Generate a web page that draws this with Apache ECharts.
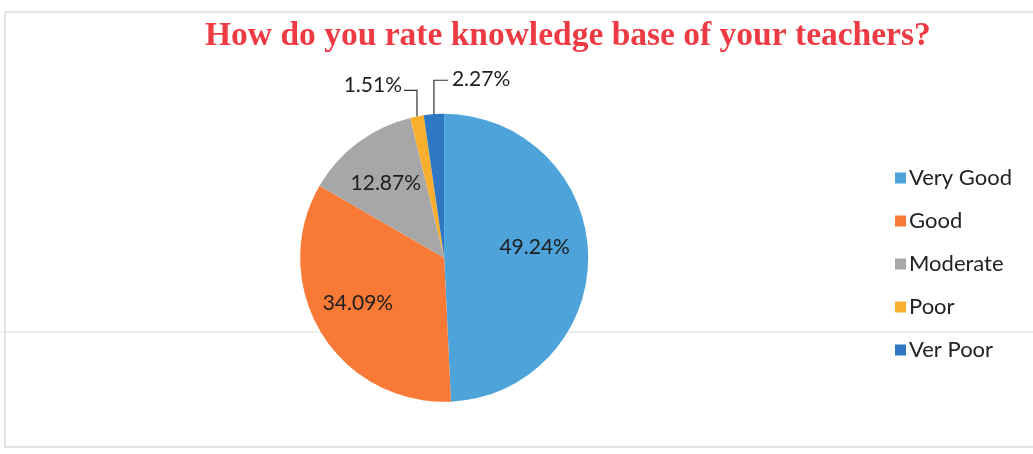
<!DOCTYPE html>
<html>
<head>
<meta charset="utf-8">
<script src="https://cdn.jsdelivr.net/npm/echarts@6/dist/echarts.min.js"></script>
<style>
html,body{margin:0;padding:0;background:#fff;}
#chart{width:1033px;height:454px;}
</style>
</head>
<body>
<div id="chart"></div>
<script>
var titleText = 'How do you rate knowledge base of your teachers?';
var categories = ['Very Good', 'Good', 'Moderate', 'Poor', 'Ver Poor'];
var values = [49.24, 34.09, 12.87, 1.51, 2.27];
var colors = ['#4DA3DA', '#F97A36', '#A8A7A7', '#F9AE2E', '#2E77C3'];

var chart = echarts.init(document.getElementById('chart'));
var CX = 0.43, CY = 0.568, R = 144;

var data = categories.map(function (c, i) {
  var outside = values[i] < 5;
  return {
    name: c,
    value: values[i],
    itemStyle: { color: colors[i] },
    label: { position: outside ? 'outside' : 'inside' },
    labelLine: { show: outside }
  };
});

chart.setOption({
  backgroundColor: '#ffffff',
  animation: false,
  title: {
    text: titleText,
    left: 200,
    top: 14,
    textStyle: {
      fontFamily: '"Liberation Serif", "Times New Roman", serif',
      fontWeight: 'bold',
      fontSize: 33.5,
      color: '#EE3B43'
    }
  },
  legend: {
    orient: 'vertical',
    left: 890,
    top: 161,
    icon: 'rect',
    itemWidth: 11,
    itemHeight: 11,
    itemGap: 19,
    selectedMode: false,
    textStyle: {
      fontFamily: 'Lato, "Noto Sans", sans-serif',
      fontSize: 22,
      lineHeight: 24,
      color: '#222',
      padding: [0, 0, 0, -2]
    },
    data: categories
  },
  graphic: [
    { type: 'rect', silent: true, shape: { x: 5, y: 12, width: 1040, height: 435 },
      style: { fill: 'none', stroke: '#c8c8c8', lineWidth: 1 } },
    { type: 'line', silent: true, shape: { x1: 0, y1: 332, x2: 1033, y2: 332 },
      style: { stroke: '#dcdcdc', lineWidth: 1 } }
  ],
  series: [{
    type: 'pie',
    center: [(CX * 100) + '%', (CY * 100) + '%'],
    radius: R,
    startAngle: 90,
    clockwise: true,
    avoidLabelOverlap: false,
    label: {
      fontFamily: 'Lato, "Noto Sans", sans-serif',
      fontSize: 21,
      color: '#1e1e1e',
      formatter: function (p) { return p.value.toFixed(2) + '%'; }
    },
    labelLine: {
      length: 28,
      length2: 12,
      lineStyle: { color: '#333', width: 1.2 }
    },
    labelLayout: function (p) {
      var i = p.dataIndex;
      var cx = chart.getWidth() * CX, cy = chart.getHeight() * CY;
      var lr = p.labelRect;
      if (values[i] >= 5) {
        var lx = lr.x + lr.width / 2, ly = lr.y + lr.height / 2;
        var nudgeY = (i === 0) ? -8 : (i === 1 ? -5 : 3);
        var nudgeX = (i === 0) ? -7 : (i === 1 ? -3 : 0);
        return { dx: (lx - cx) * 0.3 + nudgeX, dy: (ly - cy) * 0.3 + nudgeY };
      }
      var pts = p.labelLinePoints;
      if (!pts) return {};
      var p0 = pts[0];
      var toRight = (categories[i] === 'Ver Poor');
      var up = toRight ? 34 : 26;
      var p1 = [p0[0], p0[1] - up];
      var p2 = [p1[0] + (toRight ? 14 : -13), p1[1]];
      return {
        labelLinePoints: [p0, p1, p2],
        x: p2[0] + (toRight ? 4 : -2),
        y: p1[1] - (toRight ? 1 : 5),
        align: toRight ? 'left' : 'right',
        verticalAlign: 'middle'
      };
    },
    data: data
  }]
});
</script>
</body>
</html>
